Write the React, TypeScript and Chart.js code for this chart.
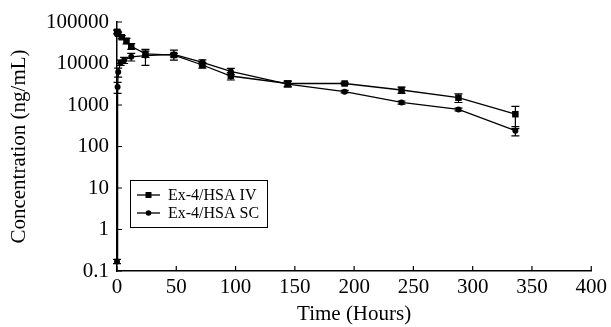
import React, { useEffect, useRef } from "react";
import { Chart, registerables } from "chart.js";

Chart.register(...registerables);

const seriesLabels = ["Ex-4/HSA IV", "Ex-4/HSA SC"];

const ivTimes = [0.083, 1, 4, 8, 12, 24, 48, 72, 96, 144, 192, 240, 288, 336];
const ivConc = [58000, 52000, 43000, 35000, 26000, 17000, 16000, 9200, 5000, 3300, 3300, 2300, 1500, 600];
const ivSD = [6000, 5000, 4000, 5500, 4000, 3000, 1500, 1500, 1000, 500, 200, 400, 350, 330];

const scTimes = [0, 0.5, 1, 3, 6, 12, 24, 48, 72, 96, 144, 192, 240, 288, 336];
const scConc = [0.17, 2700, 6200, 10500, 12000, 14500, 15500, 16500, 10700, 6500, 3200, 2100, 1150, 780, 240];
const scSD = [0.02, 800, 1500, 1500, 2000, 3000, 6500, 4500, 1500, 1100, 500, 150, 100, 60, 60];

const xTicks = [0, 50, 100, 150, 200, 250, 300, 350, 400];
const yTicks = [0.1, 1, 10, 100, 1000, 10000, 100000];
const yTickLabels = ["0.1", "1", "10", "100", "1000", "10000", "100000"];

const xTitle = "Time (Hours)";
const yTitle = "Concentration (ng/mL)";

const FONT = "'Liberation Serif', 'Times New Roman', serif";
const FS = 21;
const sdBySeries = [ivSD, scSD];

const errorBarPlugin = {
  id: "errorBars",
  afterDatasetsDraw(chart: any) {
    const ctx = chart.ctx;
    const y = chart.scales.y;
    ctx.save();
    ctx.strokeStyle = "#000";
    ctx.lineWidth = 1.2;
    chart.data.datasets.forEach((ds: any, di: number) => {
      const meta = chart.getDatasetMeta(di);
      const sds = sdBySeries[di];
      meta.data.forEach((pt: any, i: number) => {
        const v = ds.data[i].y;
        const sd = sds[i];
        const hi = y.getPixelForValue(v + sd);
        const lo = y.getPixelForValue(Math.max(v - sd, 0.1));
        const px = pt.x;
        ctx.beginPath();
        ctx.moveTo(px, hi);
        ctx.lineTo(px, lo);
        ctx.moveTo(px - 4, hi);
        ctx.lineTo(px + 4, hi);
        ctx.moveTo(px - 4, lo);
        ctx.lineTo(px + 4, lo);
        ctx.stroke();
      });
    });
    ctx.restore();
  },
};

const tickPlugin = {
  id: "inTicks",
  afterDraw(chart: any) {
    const ctx = chart.ctx;
    const { x, y } = chart.scales;
    const area = chart.chartArea;
    ctx.save();
    ctx.strokeStyle = "#000";
    ctx.lineWidth = 1.2;
    ctx.beginPath();
    xTicks.forEach((v) => {
      const px = x.getPixelForValue(v);
      ctx.moveTo(px, area.bottom);
      ctx.lineTo(px, area.bottom - 5);
    });
    yTicks.forEach((v) => {
      const py = y.getPixelForValue(v);
      ctx.moveTo(area.left, py);
      ctx.lineTo(area.left + 5, py);
    });
    ctx.stroke();
    ctx.restore();
  },
};

const legendPlugin = {
  id: "boxLegend",
  afterDraw(chart: any) {
    const ctx = chart.ctx;
    const area = chart.chartArea;
    const bx = area.left + 13;
    const by = 180;
    const bw = 137;
    const bh = 47;
    ctx.save();
    ctx.strokeStyle = "#000";
    ctx.lineWidth = 1;
    ctx.strokeRect(bx + 0.5, by + 0.5, bw, bh);
    ctx.font = `16px ${FONT}`;
    ctx.fillStyle = "#000";
    ctx.textBaseline = "middle";
    seriesLabels.forEach((lab, i) => {
      const ly = by + 15 + i * 18;
      ctx.beginPath();
      ctx.lineWidth = 1.3;
      ctx.moveTo(bx + 7, ly);
      ctx.lineTo(bx + 30, ly);
      ctx.stroke();
      if (i === 0) {
        ctx.fillRect(bx + 18.5 - 3, ly - 3, 6, 6);
      } else {
        ctx.beginPath();
        ctx.arc(bx + 18.5, ly, 2.8, 0, Math.PI * 2);
        ctx.fill();
      }
      ctx.fillText(lab, bx + 38, ly + 1);
    });
    ctx.restore();
  },
};

export default function App() {
  const ref = useRef<HTMLCanvasElement>(null);
  useEffect(() => {
    if (!ref.current) return;
    const chart = new Chart(ref.current, {
      type: "line",
      data: {
        datasets: [
          {
            label: seriesLabels[0],
            data: ivTimes.map((t, i) => ({ x: t, y: ivConc[i] })),
            borderColor: "#000",
            backgroundColor: "#000",
            borderWidth: 1.3,
            pointStyle: "rect",
            pointRadius: 4.6,
            pointBorderWidth: 0,
            clip: false,
          },
          {
            label: seriesLabels[1],
            data: scTimes.map((t, i) => ({ x: t, y: scConc[i] })),
            borderColor: "#000",
            backgroundColor: "#000",
            borderWidth: 1.3,
            pointStyle: "circle",
            pointRadius: 3,
            pointBorderWidth: 0,
            clip: false,
          },
        ],
      },
      options: {
        animation: false,
        responsive: false,
        devicePixelRatio: 1,
        layout: { padding: { left: 0, right: 16, top: 22, bottom: 0 } },
        plugins: { legend: { display: false }, tooltip: { enabled: false } },
        font: { family: FONT },
        scales: {
          x: {
            type: "linear",
            min: 0,
            max: 400,
            afterBuildTicks: (s: any) => {
              s.ticks = xTicks.map((v) => ({ value: v }));
            },
            afterFit: (s: any) => {
              s.height = 56;
            },
            grid: { display: false, drawTicks: false },
            border: { display: true, color: "#000", width: 1.5 },
            ticks: {
              color: "#000",
              padding: 4,
              maxRotation: 0,
              font: { family: FONT, size: FS },
            },
            title: {
              display: true,
              text: xTitle,
              color: "#000",
              padding: { top: 0, bottom: 0 },
              font: { family: FONT, size: FS },
            },
          },
          y: {
            type: "logarithmic",
            min: 0.1,
            max: 100000,
            afterBuildTicks: (s: any) => {
              s.ticks = yTicks.map((v) => ({ value: v }));
            },
            afterFit: (s: any) => {
              s.width = 117;
            },
            grid: { display: false, drawTicks: false },
            border: { display: true, color: "#000", width: 1.5 },
            ticks: {
              color: "#000",
              padding: 8,
              font: { family: FONT, size: FS },
              callback: (v: any) => {
                const i = yTicks.indexOf(Number(v));
                return i >= 0 ? yTickLabels[i] : "";
              },
            },
            title: {
              display: true,
              text: yTitle,
              color: "#000",
              padding: { top: 7, bottom: 0 },
              font: { family: FONT, size: FS },
            },
          },
        },
      } as any,
      plugins: [errorBarPlugin, tickPlugin, legendPlugin],
    });
    return () => chart.destroy();
  }, []);
  return (
    <div style={{ position: "absolute", left: 0, top: 0, width: 611, height: 327, background: "#fff" }}>
      <canvas ref={ref} width={611} height={327} style={{ display: "block" }} />
    </div>
  );
}
